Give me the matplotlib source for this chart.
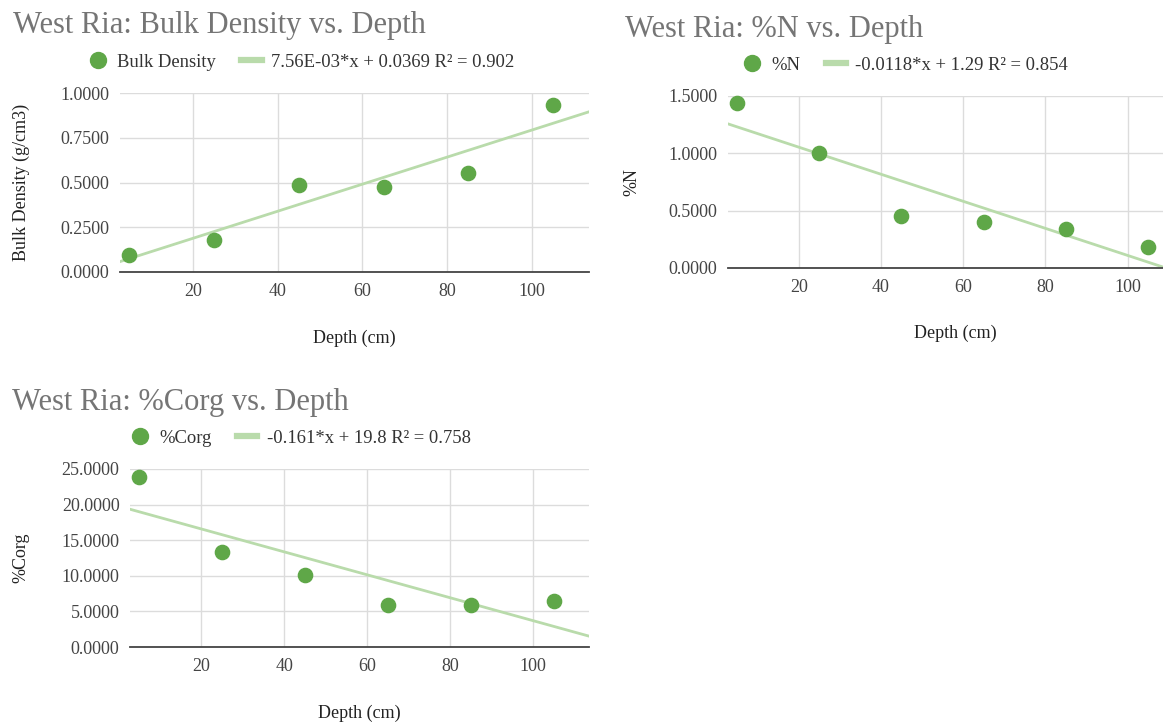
import numpy as np
import matplotlib
matplotlib.use('Agg')
import matplotlib.pyplot as plt
from matplotlib.lines import Line2D

plt.rcParams['font.family'] = ['Liberation Serif', 'DejaVu Serif']

# Datos
depth = [5, 25, 45, 65, 85, 105]
bulk_density = [0.093, 0.178, 0.486, 0.473, 0.551, 0.933]
pct_n = [1.436, 1.005, 0.451, 0.402, 0.341, 0.181]
pct_corg = [23.83, 13.30, 10.10, 5.95, 5.95, 6.41]

titles = ['West Ria: Bulk Density vs. Depth', 'West Ria: %N vs. Depth', 'West Ria: %Corg vs. Depth']
series_names = ['Bulk Density', '%N', '%Corg']
y_labels = ['Bulk Density (g/cm3)', '%N', '%Corg']
slopes = [7.56e-03, -0.0118, -0.161]
intercepts = [0.0369, 1.29, 19.8]
trend_labels = ['7.56E-03*x + 0.0369 R\u00b2 = 0.902',
                '-0.0118*x + 1.29 R\u00b2 = 0.854',
                '-0.161*x + 19.8 R\u00b2 = 0.758']
y_ticks = [[0, 0.25, 0.5, 0.75, 1.0],
           [0, 0.5, 1.0, 1.5],
           [0, 5, 10, 15, 20, 25]]
x_ticks = [20, 40, 60, 80, 100]

W, H = 1163, 726
PUNTO = '#5fa748'
TENDENCIA = '#b9dbab'

fig = plt.figure(figsize=(W / 100, H / 100), dpi=100)

# (left, right, top, bottom) en pixeles
cajas = [(120, 589, 93, 272), (728, 1183, 96, 268), (130, 589, 469, 647)]
titulo_pos = [(13, 25), (625, 30), (12, 402)]
leyenda_pos = [(301, 62), (905, 65), (300, 438)]
ylabel_x = [21, 632, 21]
xlabel_y = [338, 333, 713]

series = [bulk_density, pct_n, pct_corg]

for i in range(3):
    l, r, t, b = cajas[i]
    ax = fig.add_axes([l / W, 1 - b / H, (r - l) / W, (b - t) / H])
    xmin, xmax = 2.8, 113.5
    ax.set_xlim(xmin, xmax)
    ax.set_ylim(y_ticks[i][0], y_ticks[i][-1])
    ax.set_xticks(x_ticks)
    ax.set_yticks(y_ticks[i])
    ax.yaxis.set_major_formatter(matplotlib.ticker.FormatStrFormatter('%.4f'))
    ax.grid(True, color='#dcdcdc', lw=1)
    ax.set_axisbelow(True)
    for s in ['top', 'right', 'left']:
        ax.spines[s].set_visible(False)
    ax.spines['bottom'].set_color('#444444')
    ax.spines['bottom'].set_linewidth(1.3)
    ax.tick_params(length=0, labelsize=13, colors='#444444')
    ax.tick_params(axis='x', pad=8)
    ax.tick_params(axis='y', pad=7.5)

    xs = np.array([xmin, xmax])
    ax.plot(xs, slopes[i] * xs + intercepts[i], color=TENDENCIA, lw=2, zorder=2)
    ax.scatter(depth, series[i], s=105, color=PUNTO, zorder=3, clip_on=False)

    # Titulo
    fig.text(titulo_pos[i][0] / W, 1 - titulo_pos[i][1] / H, titles[i],
             fontsize=22, color='#757575', ha='left', va='center')
    # Ejes
    fig.text(ylabel_x[i] / W, 1 - ((t + b) / 2) / H, y_labels[i], rotation=90,
             fontsize=13, color='#222222', ha='center', va='center')
    fig.text(((l + r) / 2) / W, 1 - xlabel_y[i] / H, 'Depth (cm)',
             fontsize=13, color='#222222', ha='center', va='center')

    # Leyenda
    handles = [Line2D([], [], ls='none', marker='o', markersize=11.5, color=PUNTO),
               Line2D([], [], color=TENDENCIA, lw=4.5)]
    fig.legend(handles, [series_names[i], trend_labels[i]], loc='center',
               bbox_to_anchor=(leyenda_pos[i][0] / W, 1 - leyenda_pos[i][1] / H),
               ncol=2, frameon=False, fontsize=13.4, handlelength=1.1,
               handletextpad=0.5, columnspacing=1.35, labelcolor='#333333')

fig.savefig('out.png', dpi=100)
